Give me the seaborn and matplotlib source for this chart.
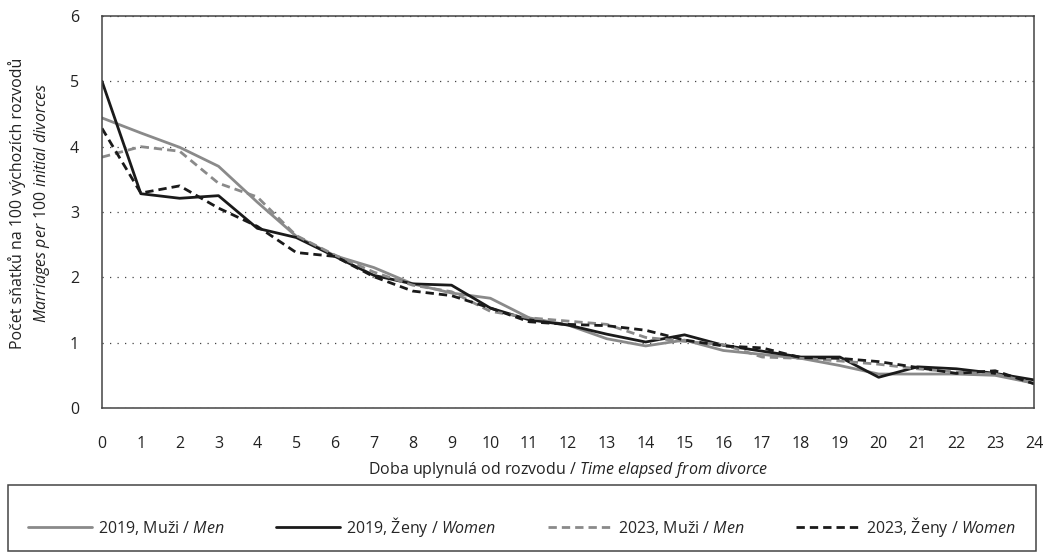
import pandas as pd
import seaborn as sns
import matplotlib.pyplot as plt
from matplotlib.patches import Rectangle

# years elapsed since divorce
years = list(range(25))

# marriages per 100 initial divorces
men_2019 = [4.44, 4.21, 3.99, 3.70, 3.15, 2.63, 2.33, 2.15, 1.90, 1.76, 1.68, 1.38, 1.27,
            1.06, 0.95, 1.04, 0.88, 0.82, 0.76, 0.65, 0.52, 0.52, 0.52, 0.50, 0.38]
women_2019 = [5.00, 3.28, 3.21, 3.25, 2.75, 2.61, 2.32, 2.03, 1.90, 1.88, 1.53, 1.35, 1.27,
              1.13, 1.01, 1.12, 0.96, 0.87, 0.78, 0.78, 0.47, 0.63, 0.60, 0.53, 0.43]
men_2023 = [3.84, 4.00, 3.93, 3.44, 3.23, 2.64, 2.34, 2.08, 1.88, 1.78, 1.48, 1.38, 1.33,
            1.28, 1.08, 1.02, 0.97, 0.78, 0.76, 0.72, 0.67, 0.60, 0.55, 0.52, 0.38]
women_2023 = [4.28, 3.29, 3.40, 3.06, 2.78, 2.38, 2.32, 2.01, 1.79, 1.72, 1.53, 1.32, 1.28,
              1.26, 1.19, 1.04, 0.95, 0.92, 0.77, 0.76, 0.71, 0.62, 0.53, 0.57, 0.37]

labels = [r"2019, Muži / $\it{Men}$", r"2019, Ženy / $\it{Women}$",
          r"2023, Muži / $\it{Men}$", r"2023, Ženy / $\it{Women}$"]

sns.set_style("white")
font = "Open Sans"
plt.rcParams['font.family'] = [font, 'DejaVu Sans']
plt.rcParams['mathtext.fontset'] = 'custom'
plt.rcParams['mathtext.rm'] = font
plt.rcParams['mathtext.it'] = font + ':italic'
plt.rcParams['font.size'] = 11.5

GRAY = "#8a8a8a"
BLACK = "#1a1a1a"
AX = "#444444"
W, H = 1044, 553

fig = plt.figure(figsize=(10.44, 5.53), dpi=100)
ax = fig.add_axes([102 / W, 1 - 408 / H, 932 / W, 392 / H])

series = [men_2019, women_2019, men_2023, women_2023]
colors = [GRAY, BLACK, GRAY, BLACK]
dashed = [False, False, True, True]

for vals, lab, col, dsh in zip(series, labels, colors, dashed):
    df = pd.DataFrame({"x": years, "y": vals})
    sns.lineplot(data=df, x="x", y="y", ax=ax, color=col, lw=2.0, label=lab)
    if dsh:
        ax.lines[-1].set_dashes((3.0, 1.8))

ax.set_xlim(0, 24)
ax.set_ylim(0, 6)
ax.set_xticks(years)
ax.set_yticks(range(7))
ax.grid(axis='y', color=AX, linestyle=(0, (1, 5)), lw=0.9)
ax.grid(axis='x', visible=False)
for s in ax.spines.values():
    s.set_color(AX)
    s.set_linewidth(1.1)
ax.tick_params(axis='x', direction='out', length=10, width=1.1, color=AX, pad=10, labelcolor="#222222")
ax.tick_params(axis='y', direction='out', length=9.5, width=1.1, color=AX, pad=7, labelcolor="#222222")

ax.set_xlabel(r"Doba uplynulá od rozvodu / $\it{Time\ elapsed\ from\ divorce}$", color="#222222", labelpad=6)
ax.set_ylabel("Počet sňatků na 100 výchozích rozvodů\n$\\it{Marriages\\ per\\ 100\\ initial\\ divorces}$",
              color="#222222", labelpad=13, linespacing=1.4)
ax.yaxis.label.set_y(0.523)

handles, labs = ax.get_legend_handles_labels()
ax.get_legend().remove()
# legend entries without frame, box drawn separately
fig.legend(handles, labs, loc='center', ncol=4, mode='expand',
           bbox_to_anchor=(28 / W, 1 - 545 / H, 988 / W, 36 / H),
           frameon=False, handlelength=4.0, handletextpad=0.4,
           borderaxespad=0, borderpad=0.0, fontsize=11.5)
fig.patches.append(Rectangle((8 / W, 1 - 551 / H), 1028 / W, 66 / H, transform=fig.transFigure,
                             fill=False, edgecolor=AX, lw=1.1))

fig.savefig("out.png", dpi=100)
